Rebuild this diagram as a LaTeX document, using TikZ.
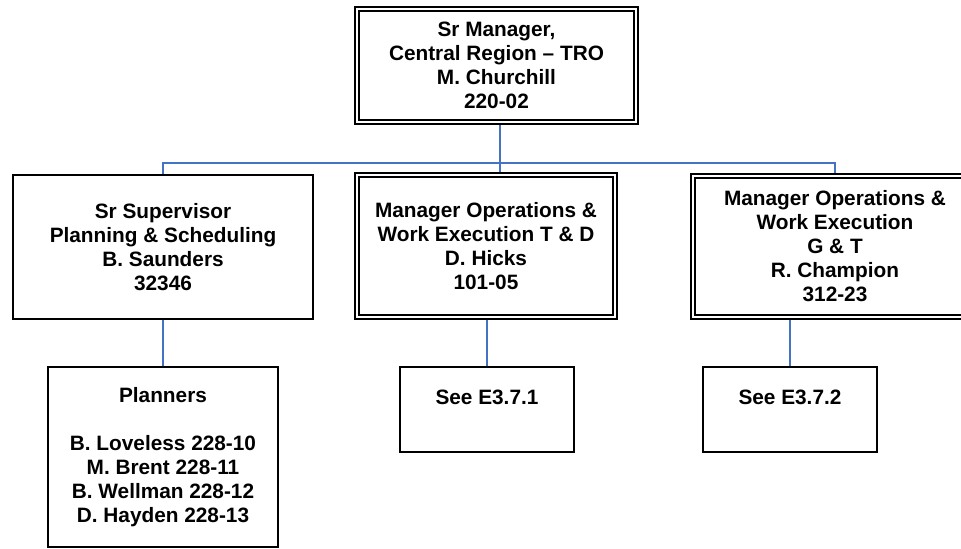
\documentclass[tikz,border=0pt]{standalone}
\usepackage{fontspec}
\setmainfont{Liberation Sans}
\begin{document}
\begin{tikzpicture}[x=0.75pt,y=-0.75pt,
  box/.style={draw=black, line width=1.1pt, rectangle, inner sep=0pt, align=center,
    font=\fontsize{15.6pt}{18pt}\selectfont\bfseries},
  outerbox/.style={box, line width=0.8pt},
  innerline/.style={draw=black, line width=1.5pt},
  conn/.style={draw={rgb,255:red,68;green,114;blue,196}, line width=1.1pt}]
\useasboundingbox (0,0) rectangle (961,549);
\clip (0,0) rectangle (961,549);
% top
\node[outerbox, minimum width=283*0.75pt, minimum height=117*0.75pt] (top) at (496.5,65.5)
  {Sr Manager,\\Central Region -- TRO\\M. Churchill\\220-02};
\draw[innerline] ([shift={(4.5,4.5)}]top.north west) rectangle ([shift={(-4.5,-4.5)}]top.south east);
% second row
\node[box, minimum width=300*0.75pt, minimum height=144*0.75pt] (sup) at (163,247)
  {Sr Supervisor\\Planning \& Scheduling\\B. Saunders\\32346};
\node[outerbox, minimum width=262*0.75pt, minimum height=146*0.75pt] (opT) at (486,246)
  {Manager Operations \&\\Work Execution T \& D\\D. Hicks\\101-05};
\draw[innerline] ([shift={(4.5,4.5)}]opT.north west) rectangle ([shift={(-4.5,-4.5)}]opT.south east);
\node[outerbox, minimum width=288*0.75pt, minimum height=145*0.75pt] (opG) at (835,246.5)
  {Manager Operations \&\\Work Execution\\G \& T\\R. Champion\\312-23};
\draw[innerline] ([shift={(4.5,4.5)}]opG.north west) rectangle ([shift={(-4.5,-4.5)}]opG.south east);
% third row
\node[box, minimum width=230*0.75pt, minimum height=180*0.75pt] (plan) at (163,457)
  {Planners\\\mbox{}\\B. Loveless 228-10\\M. Brent 228-11\\B. Wellman 228-12\\D. Hayden 228-13};
\node[box, minimum width=174*0.75pt, minimum height=85*0.75pt] (see1) at (487,409.5)
  {See E3.7.1\\\mbox{}};
\node[box, minimum width=174*0.75pt, minimum height=85*0.75pt] (see2) at (790,409.5)
  {See E3.7.2\\\mbox{}};
% connectors
\coordinate (bus) at (500,163);
\draw[conn] (top.south -| bus) -- (bus);
\draw[conn] (sup.north) -- (sup.north |- bus) -- (opG.north |- bus) -- (opG.north);
\draw[conn] (bus) -- (bus |- opT.north);
\draw[conn] (sup.south) -- (plan.north);
\draw[conn] (see1.north |- opT.south) -- (see1.north);
\draw[conn] (see2.north |- opG.south) -- (see2.north);
\end{tikzpicture}
\end{document}
